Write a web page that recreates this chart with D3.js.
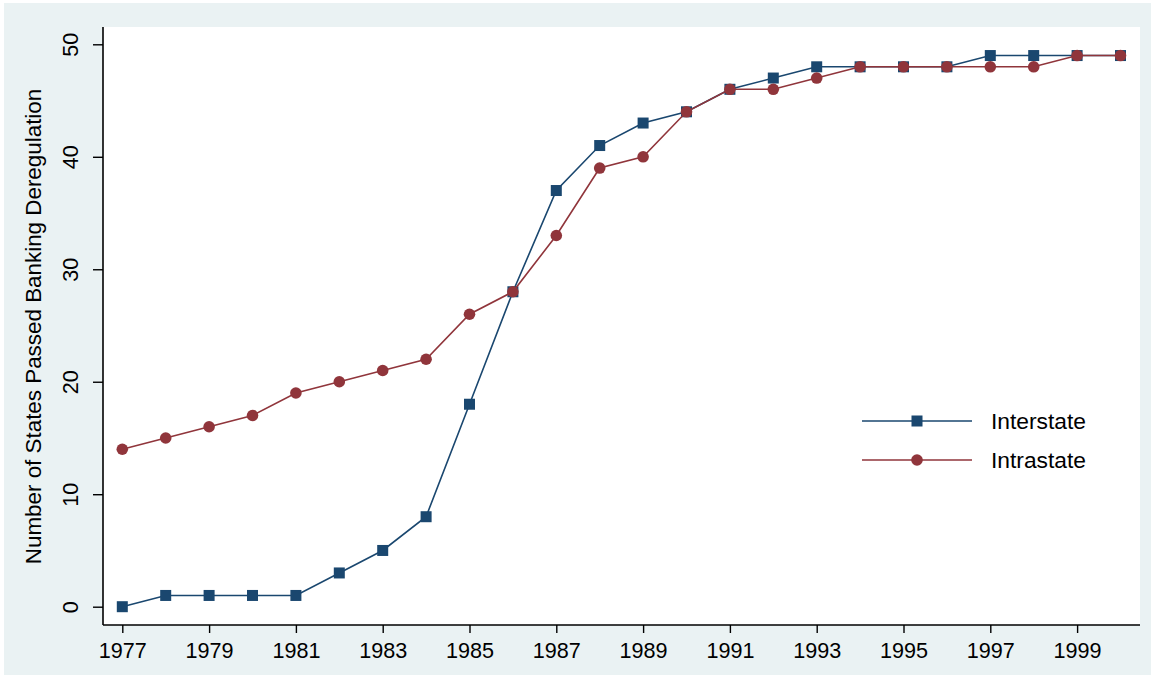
<!DOCTYPE html>
<html>
<head>
<meta charset="utf-8">
<script src="https://cdn.jsdelivr.net/npm/d3@7"></script>
<style>
  html, body { margin: 0; padding: 0; background: #ffffff; }
  svg { display: block; }
  text { font-family: "Liberation Sans", Arial, sans-serif; fill: #000; }
</style>
</head>
<body>
<svg id="chart" width="1153" height="675"></svg>
<script>
const years = [1977,1978,1979,1980,1981,1982,1983,1984,1985,1986,1987,1988,1989,1990,1991,1992,1993,1994,1995,1996,1997,1998,1999,2000];
const interstate = [0,1,1,1,1,3,5,8,18,28,37,41,43,44,46,47,48,48,48,48,49,49,49,49];
const intrastate = [14,15,16,17,19,20,21,22,26,28,33,39,40,44,46,46,47,48,48,48,48,48,49,49];
const xTicks = [1977,1979,1981,1983,1985,1987,1989,1991,1993,1995,1997,1999];
const yTicks = [0,10,20,30,40,50];
const seriesNames = ["Interstate","Intrastate"];
const yTitle = "Number of States Passed Banking Deregulation";

const colors = ["#1a476f", "#90353b"];
const svg = d3.select("#chart");

// outer background
svg.append("rect").attr("x", 4).attr("y", 3).attr("width", 1147).attr("height", 672).attr("fill", "#eaf2f3");

const plot = {left: 103, right: 1140, top: 27, bottom: 625};
svg.append("rect").attr("x", plot.left).attr("y", plot.top)
  .attr("width", plot.right - plot.left).attr("height", plot.bottom - plot.top).attr("fill", "#ffffff");

const x = d3.scaleLinear().domain([1977, 2000]).range([122.3, 1120.5]);
const y = d3.scaleLinear().domain([0, 50]).range([606.7, 44.3]);

// X axis
const xAxis = svg.append("g").attr("transform", `translate(0,${plot.bottom})`)
  .call(d3.axisBottom(x).tickValues(xTicks).tickFormat(d3.format("d")).tickSize(8).tickPadding(10).tickSizeOuter(0));
xAxis.select(".domain").attr("d", `M${plot.left},0H${plot.right}`).attr("stroke", "#000").attr("stroke-width", 1.6);
xAxis.selectAll(".tick line").attr("stroke", "#000").attr("stroke-width", 1.4);
xAxis.selectAll(".tick text").attr("font-size", 21.6).attr("fill", "#000").attr("dy", null).attr("y", 33)
  .style("font-family", "'Liberation Sans', Arial, sans-serif");

// Y axis
const yAxis = svg.append("g").attr("transform", `translate(${plot.left},0)`)
  .call(d3.axisLeft(y).tickValues(yTicks).tickSize(10).tickSizeOuter(0));
yAxis.select(".domain").attr("d", `M0,${plot.top}V${plot.bottom}`).attr("stroke", "#000").attr("stroke-width", 1.6);
yAxis.selectAll(".tick line").attr("stroke", "#000").attr("stroke-width", 1.4);
yAxis.selectAll(".tick text")
  .attr("x", null).attr("dy", null)
  .attr("text-anchor", "middle")
  .attr("transform", "translate(-25,0) rotate(-90)")
  .attr("font-size", 21.6).attr("fill", "#000")
  .style("font-family", "'Liberation Sans', Arial, sans-serif");

// Y title
svg.append("text")
  .attr("transform", `translate(41,${(88 + 565) / 2}) rotate(-90)`)
  .attr("text-anchor", "middle")
  .attr("font-size", 22.4)
  .text(yTitle);

const line = d3.line().x((d, i) => x(years[i])).y(d => y(d));
const seriesData = [interstate, intrastate];

seriesData.forEach((vals, si) => {
  const g = svg.append("g");
  g.append("path").datum(vals).attr("d", line)
    .attr("fill", "none").attr("stroke", colors[si]).attr("stroke-width", 1.6);
  if (si === 0) {
    g.selectAll("rect").data(vals).enter().append("rect")
      .attr("x", (d, i) => x(years[i]) - 5.5).attr("y", d => y(d) - 5.5)
      .attr("width", 11).attr("height", 11).attr("fill", colors[0]);
  } else {
    g.selectAll("circle").data(vals).enter().append("circle")
      .attr("cx", (d, i) => x(years[i])).attr("cy", d => y(d))
      .attr("r", 5.8).attr("fill", colors[1]);
  }
});

// Legend
const legendY = [421, 460];
seriesNames.forEach((name, si) => {
  const g = svg.append("g");
  g.append("line").attr("x1", 862).attr("x2", 972).attr("y1", legendY[si]).attr("y2", legendY[si])
    .attr("stroke", colors[si]).attr("stroke-width", 1.6);
  if (si === 0) {
    g.append("rect").attr("x", 917 - 5.5).attr("y", legendY[si] - 5.5).attr("width", 11).attr("height", 11).attr("fill", colors[0]);
  } else {
    g.append("circle").attr("cx", 917).attr("cy", legendY[si]).attr("r", 5.8).attr("fill", colors[1]);
  }
  g.append("text").attr("x", 991).attr("y", legendY[si] + 7.5).attr("font-size", 22.8).text(name);
});
</script>
</body>
</html>
